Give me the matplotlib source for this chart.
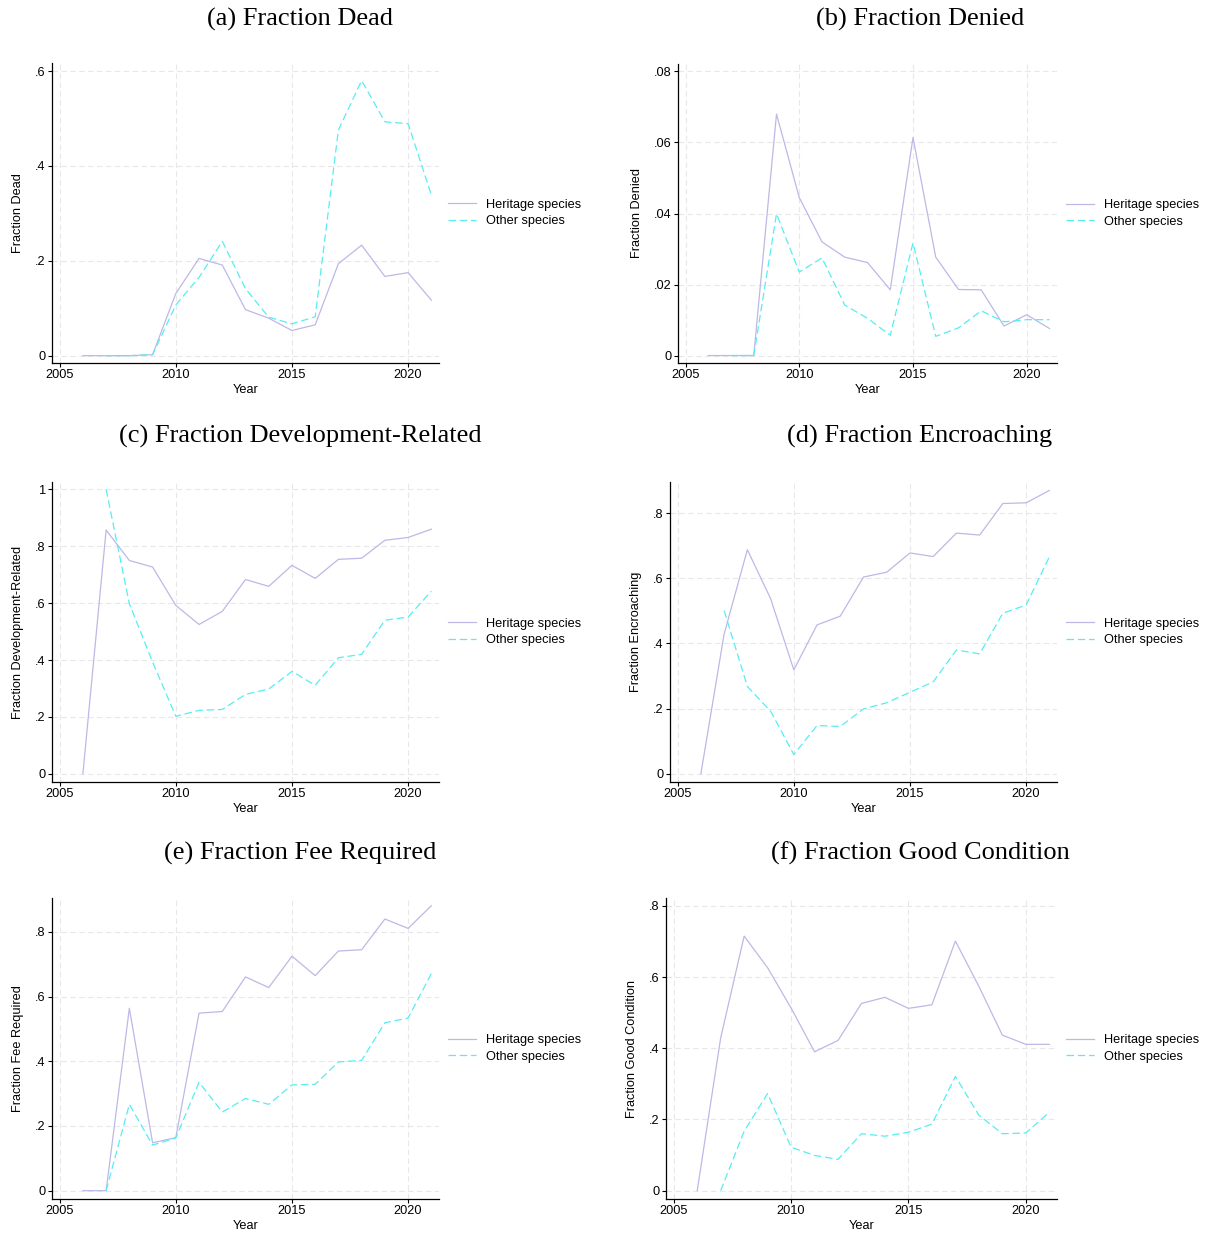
import numpy as np
import matplotlib
matplotlib.use("Agg")
import matplotlib.pyplot as plt

# years
years = list(range(2006, 2022))
years_other = list(range(2007, 2022))

# (a) dead
dead_her = [0, 0, 0, 0.002, 0.131, 0.205, 0.191, 0.097, 0.079, 0.053, 0.065, 0.194, 0.233, 0.167, 0.175, 0.117]
dead_oth = [0, 0, 0.002, 0.107, 0.165, 0.241, 0.141, 0.081, 0.067, 0.082, 0.476, 0.580, 0.493, 0.489, 0.339]
# (b) denied
denied_her = [0, 0, 0, 0.068, 0.0445, 0.032, 0.0277, 0.0262, 0.0185, 0.0614, 0.0277, 0.0186, 0.0185, 0.0083, 0.0115, 0.0076]
denied_oth = [0, 0, 0.0399, 0.0235, 0.0275, 0.0142, 0.0105, 0.0057, 0.0317, 0.0054, 0.0078, 0.0126, 0.0095, 0.0101, 0.0101]
# (c) development-related
dev_her = [0, 0.857, 0.750, 0.727, 0.592, 0.525, 0.571, 0.683, 0.659, 0.733, 0.687, 0.754, 0.758, 0.821, 0.831, 0.860]
dev_oth = [1.0, 0.598, 0.393, 0.202, 0.223, 0.226, 0.279, 0.298, 0.360, 0.311, 0.408, 0.420, 0.540, 0.551, 0.642]
# (d) encroaching
enc_her = [0, 0.429, 0.688, 0.538, 0.319, 0.457, 0.484, 0.604, 0.619, 0.678, 0.667, 0.739, 0.733, 0.830, 0.832, 0.870]
enc_oth = [0.501, 0.268, 0.192, 0.059, 0.148, 0.145, 0.199, 0.218, 0.250, 0.282, 0.380, 0.368, 0.493, 0.518, 0.666]
# (e) fee required
fee_her = [0, 0, 0.564, 0.148, 0.164, 0.549, 0.554, 0.661, 0.628, 0.725, 0.665, 0.741, 0.745, 0.840, 0.811, 0.881]
fee_oth = [0, 0.267, 0.141, 0.163, 0.335, 0.243, 0.285, 0.267, 0.327, 0.329, 0.398, 0.403, 0.519, 0.534, 0.671]
# (f) good condition
good_her = [0, 0.429, 0.715, 0.626, 0.513, 0.390, 0.422, 0.526, 0.543, 0.512, 0.522, 0.701, 0.574, 0.437, 0.411, 0.411]
good_oth = [0, 0.167, 0.273, 0.122, 0.099, 0.088, 0.160, 0.153, 0.164, 0.187, 0.321, 0.212, 0.160, 0.162, 0.220]

titles = ["(a) Fraction Dead", "(b) Fraction Denied", "(c) Fraction Development-Related",
          "(d) Fraction Encroaching", "(e) Fraction Fee Required", "(f) Fraction Good Condition"]
ylabels = ["Fraction Dead", "Fraction Denied", "Fraction Development-Related",
           "Fraction Encroaching", "Fraction Fee Required", "Fraction Good Condition"]
yticks = [[0, .2, .4, .6], [0, .02, .04, .06, .08], [0, .2, .4, .6, .8, 1],
          [0, .2, .4, .6, .8], [0, .2, .4, .6, .8], [0, .2, .4, .6, .8]]
ytick_labels = [["0", ".2", ".4", ".6"], ["0", ".02", ".04", ".06", ".08"],
                ["0", ".2", ".4", ".6", ".8", "1"], ["0", ".2", ".4", ".6", ".8"],
                ["0", ".2", ".4", ".6", ".8"], ["0", ".2", ".4", ".6", ".8"]]
ylims = [(-0.0155, 0.617), (-0.0021, 0.0821), (-0.029, 1.026),
         (-0.0255, 0.896), (-0.0258, 0.905), (-0.0234, 0.822)]
her = [dead_her, denied_her, dev_her, enc_her, fee_her, good_her]
oth = [dead_oth, denied_oth, dev_oth, enc_oth, fee_oth, good_oth]

# axes boxes in pixels: left, top, right, bottom
boxes = [(52, 63, 439, 363), (678, 64, 1057, 363),
         (52, 482, 439, 782), (670, 482, 1057, 782),
         (52, 898, 439, 1199), (666, 898, 1057, 1199)]
title_pos = [(300, 19), (920, 19), (300, 436), (920, 436), (300, 853), (920, 853)]

W, H = 1206, 1238
fig = plt.figure(figsize=(W / 100, H / 100), dpi=100)
fig.patch.set_facecolor("white")

HER_C = "#bdb8e6"
OTH_C = "#55eef2"
FS = 9.2

for i in range(6):
    l, t, r, b = boxes[i]
    ax = fig.add_axes([l / W, 1 - b / H, (r - l) / W, (b - t) / H])
    ax.plot(years, her[i], color=HER_C, lw=0.9, label="Heritage species")
    ax.plot(years_other, oth[i], color=OTH_C, lw=0.9, ls=(0, (6, 3)), label="Other species")
    ax.set_xlim(2004.67, 2021.33)
    ax.set_ylim(*ylims[i])
    ax.set_xticks([2005, 2010, 2015, 2020])
    ax.set_yticks(yticks[i])
    ax.set_yticklabels(ytick_labels[i])
    ax.grid(True, color="#e8e8e8", ls=(0, (5, 3)), lw=0.8)
    ax.set_axisbelow(True)
    for s in ["top", "right"]:
        ax.spines[s].set_visible(False)
    ax.spines["left"].set_linewidth(0.9)
    ax.spines["bottom"].set_linewidth(0.9)
    ax.tick_params(labelsize=FS, length=3, width=0.8, pad=1.5, labelfontfamily="Liberation Sans")
    ax.set_xlabel("Year", fontsize=FS, family="Liberation Sans", labelpad=2)
    ax.set_ylabel(ylabels[i], fontsize=FS, family="Liberation Sans", labelpad=8)
    ax.legend(loc="center left", bbox_to_anchor=(1.0 + 9 / (r - l), 0.5), frameon=False,
              prop={"family": "Liberation Sans", "size": FS}, handlelength=2.2,
              handletextpad=0.8, labelspacing=0.38, borderpad=0, borderaxespad=0)
    tx, ty = title_pos[i]
    fig.text(tx / W, 1 - ty / H, titles[i], ha="center", va="center",
             fontsize=19, family="Liberation Serif")

fig.savefig("out.png", dpi=100, facecolor="white")
